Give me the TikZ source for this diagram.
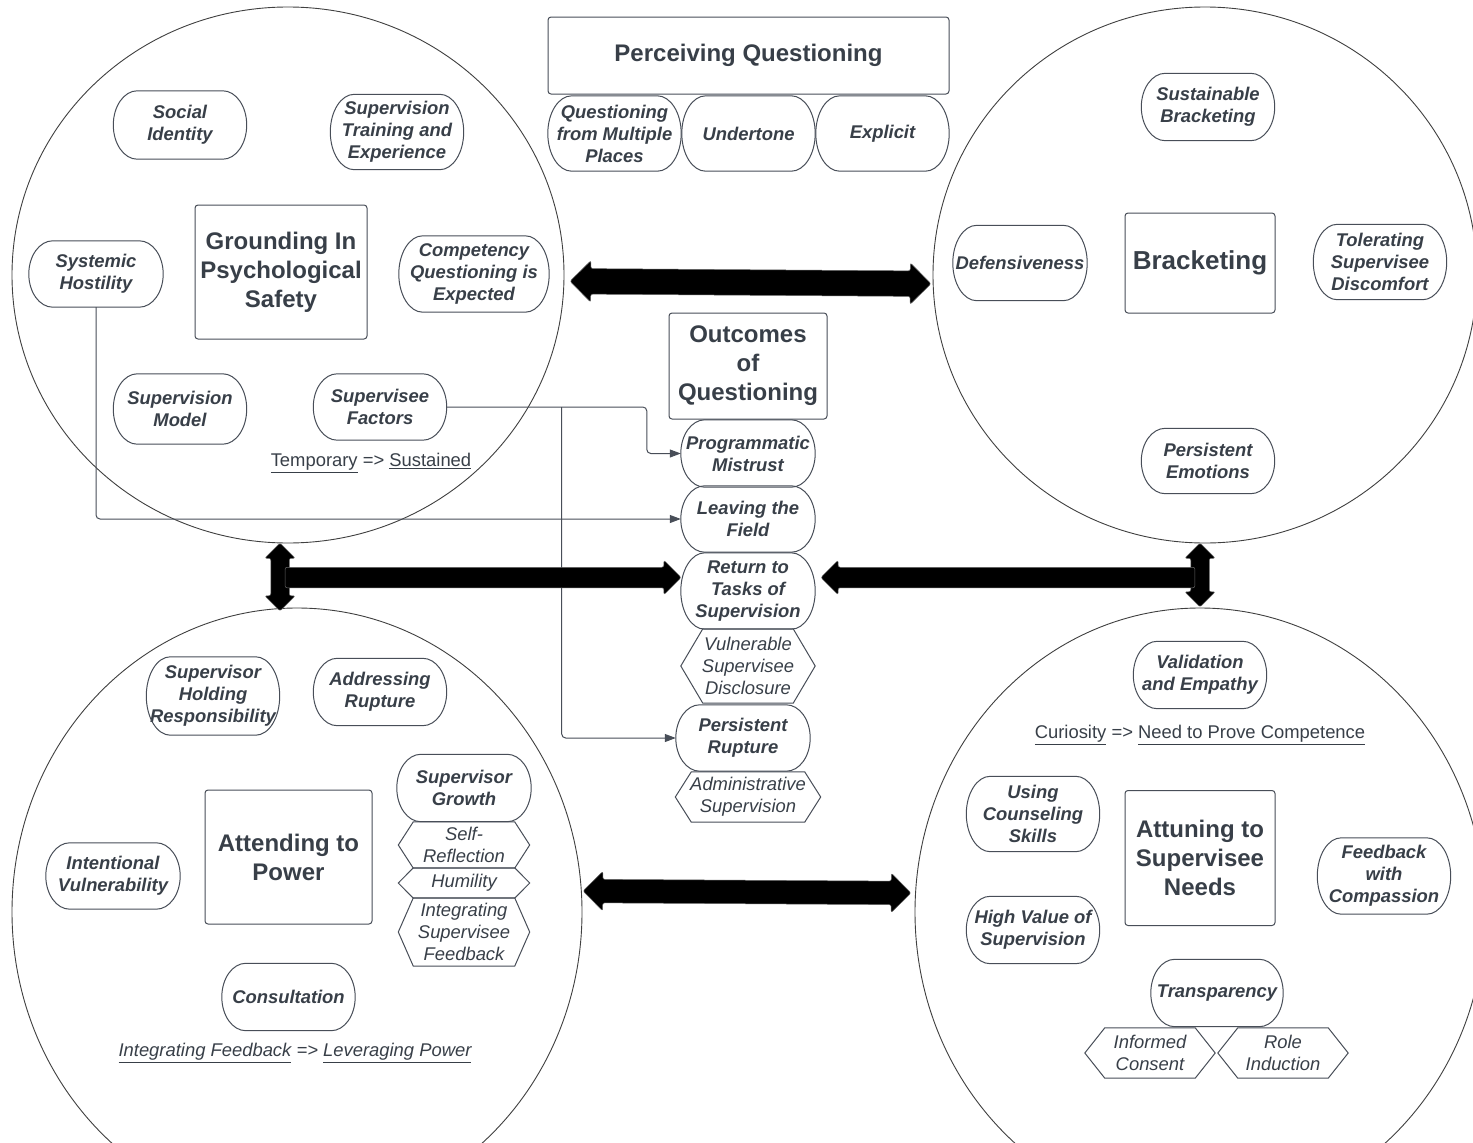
\documentclass[tikz,border=0pt]{standalone}
\usepackage{fontspec}
\setmainfont{Liberation Sans}
\usetikzlibrary{arrows.meta,calc,shapes.arrows}

\definecolor{ink}{RGB}{56,63,72}
\definecolor{edge}{RGB}{72,78,88}

% outline of a pill-shaped label: flat top and bottom, elliptic ends
\newcommand{\pillline}[1]{%
  \draw[edgeline] let \p1=(#1.north), \p2=(#1.south), \n1={abs(\y1-\y2)/2} in
    ([xshift=24pt]#1.north west) -- ([xshift=-24pt]#1.north east)
    arc[start angle=90,end angle=-90,x radius=24pt,y radius={\n1*1pt}]
    -- ([xshift=24pt]#1.south west)
    arc[start angle=270,end angle=90,x radius=24pt,y radius={\n1*1pt}] -- cycle;}

% outline of a hexagonal sub-label with a given side inset
\newcommand{\hexline}[2]{%
  \draw[edgeline] (#1.west) -- ([xshift=#2]#1.north west) -- ([xshift=-#2]#1.north east)
    -- (#1.east) -- ([xshift=-#2]#1.south east) -- ([xshift=#2]#1.south west) -- cycle;}

\begin{document}
\begin{tikzpicture}[x=1pt,y=-1pt,
  every node/.style={text=ink, inner sep=0pt, align=center},
  edgeline/.style={draw=edge, line width=1pt},
  ring/.style={draw=black!75, line width=0.9pt},
  lbl/.style={font=\fontsize{18.4}{22}\selectfont\bfseries\itshape},
  pill/.style={lbl, minimum width=133pt, minimum height=#1},
  pill/.default=68pt,
  hexa/.style={font=\fontsize{18.4}{22}\selectfont\itshape, minimum height=#1},
  hexa/.default=50pt,
  headbox/.style={font=\fontsize{24}{29}\selectfont\bfseries, draw=edge, line width=1pt, rounded corners=3pt},
  plain/.style={font=\fontsize{18.4}{22}\selectfont},
  conn/.style={draw=edge, line width=1pt, rounded corners=4pt, -{Triangle[length=11pt,width=8pt]}},
  bigarrow/.style={draw=black!60, fill=black, line width=0.5pt, inner xsep=0pt, rounded corners=2pt}
]
\fill[white] (0,0) rectangle (1473,1143);
\clip (0,0) rectangle (1473,1143);

% four theme regions
\draw[ring] (288,275) ellipse [x radius=276pt, y radius=268pt];
\draw[ring] (1205,275) ellipse [x radius=272pt, y radius=268pt];
\draw[ring] (297,912) ellipse [x radius=285pt, y radius=304pt];
\draw[ring] (1200,912) ellipse [x radius=285pt, y radius=304pt];

% perceiving questioning
\node[headbox, minimum width=401pt, minimum height=77pt] (pq) at (748.5,55.5) {Perceiving Questioning};
\node[pill=75pt] (qm) at (614.5,133.5) {Questioning\\from Multiple\\Places};
\node[pill=75pt] (ut) at (748.5,133.5) {Undertone};
\node[pill=75pt] (ex) at (882.5,133.5) {Explicit};

% grounding in psychological safety
\node[pill=68pt] (si) at (180,125) {Social\\Identity};
\node[pill=75pt] (st) at (397,132) {Supervision\\Training and\\Experience};
\node[headbox, minimum width=172pt, minimum height=134pt] (gp) at (281,272) {Grounding In\\Psychological\\Safety};
\node[pill=66pt, minimum width=134pt] (sh) at (96,274) {Systemic\\Hostility};
\node[pill=76pt, minimum width=150pt] (cq) at (474,274) {Competency\\Questioning is\\Expected};
\node[pill=70pt] (sm) at (180,409) {Supervision\\Model};
\node[pill=66pt] (sf) at (380,407) {Supervisee\\Factors};
\node[plain] (tl1) at (371,463) {\underline{Temporary} => \underline{Sustained}};

% bracketing
\node[pill=67pt] (sb) at (1208,107) {Sustainable\\Bracketing};
\node[pill=75pt, minimum width=134pt] (df) at (1020,263) {Defensiveness};
\node[headbox, font=\fontsize{26}{31}\selectfont\bfseries, minimum width=150pt, minimum height=100pt] (br) at (1200,263) {Bracketing};
\node[pill=75pt] (ts) at (1380,262) {Tolerating\\Supervisee\\Discomfort};
\node[pill=65pt] (pe) at (1208,461) {Persistent\\Emotions};

% outcomes of questioning
\node[headbox, minimum width=158pt, minimum height=106pt] (oq) at (748,366) {Outcomes\\of\\Questioning};
\node[pill=67pt, minimum width=134pt] (pm) at (748,453.5) {Programmatic\\Mistrust};
\node[pill=66pt, minimum width=134pt] (lf) at (748,519) {Leaving the\\Field};
\node[pill=76pt, minimum width=134pt] (rt) at (748,591) {Return to\\Tasks of\\Supervision};
\node[hexa=74pt, minimum width=134pt] (vd) at (748,666) {Vulnerable\\Supervisee\\Disclosure};
\node[pill=66pt, minimum width=134pt] (pr) at (743,738) {Persistent\\Rupture};
\node[hexa=50pt, minimum width=145pt] (as) at (748,797) {Administrative\\Supervision};

% attending to power
\node[pill=78pt] (sr) at (213,696) {Supervisor\\Holding\\Responsibility};
\node[pill=67pt] (ar) at (380,692) {Addressing\\Rupture};
\node[pill=67pt, minimum width=134pt] (sg) at (464,788) {Supervisor\\Growth};
\node[hexa=46pt, minimum width=131pt] (sx) at (464,845) {Self-\\Reflection};
\node[hexa=30pt, minimum width=131pt] (hu) at (464,883) {Humility};
\node[hexa=68pt, minimum width=131pt] (is) at (464,932) {Integrating\\Supervisee\\Feedback};
\node[headbox, minimum width=167pt, minimum height=134pt] (ap) at (288.5,857) {Attending to\\Power};
\node[pill=66pt, minimum width=134pt] (iv) at (113,876) {Intentional\\Vulnerability};
\node[pill=67pt] (co) at (288.5,997) {Consultation};
\node[plain, font=\fontsize{18.4}{22}\selectfont\itshape] (tl2) at (295,1053) {\underline{Integrating Feedback} => \underline{Leveraging Power}};

% attuning to supervisee needs
\node[pill=67pt] (ve) at (1200,675) {Validation\\and Empathy};
\node[plain] (tl3) at (1200,735) {\underline{Curiosity} => \underline{Need to Prove Competence}};
\node[pill=75pt] (uc) at (1033,814) {Using\\Counseling\\Skills};
\node[pill=67pt] (hv) at (1033,930) {High Value of\\Supervision};
\node[headbox, minimum width=150pt, minimum height=135pt] (at) at (1200,858) {Attuning to\\Supervisee\\Needs};
\node[pill=76pt] (fc) at (1384,876) {Feedback\\with\\Compassion};
\node[pill=67pt, minimum width=132pt] (tr) at (1217,993) {Transparency};
\node[hexa=50pt, minimum width=130pt] (ic) at (1150,1053) {Informed\\Consent};
\node[hexa=50pt, minimum width=130pt] (ri) at (1283,1053) {Role\\Induction};

% outlines of pill and hexagon labels
\foreach \nm in {qm,ut,ex,si,st,sh,cq,sm,sf,sb,df,ts,pe,pm,lf,rt,pr,sr,ar,sg,iv,co,ve,uc,hv,fc,tr}
  {\pillline{\nm}}
\hexline{vd}{22pt}
\hexline{as}{16pt}
\hexline{sx}{15pt}
\hexline{hu}{15pt}
\hexline{is}{15pt}
\hexline{ic}{20pt}
\hexline{ri}{20pt}

% links into the outcomes column
\draw[conn] (sh.south) |- (lf.west);
\draw[conn] (sf.east) -| ($(pm.west)+(-34,0)$) -- (pm.west);
\coordinate (fork) at ($(sf.east)+(115,0)$);
\draw[conn] (fork) |- (pr.west);

% broad arrows between the regions
\node[bigarrow, double arrow, inner ysep=12.5pt, double arrow head extend=8pt, minimum height=361pt, rotate=-0.4] (a1) at (750.5,282.5) {};
\node[bigarrow, double arrow, inner ysep=9pt, double arrow head extend=6pt, minimum height=68pt, rotate=90] (a2) at (280,577) {};
\node[bigarrow, double arrow, inner ysep=9pt, double arrow head extend=6pt, minimum height=64pt, rotate=90] (a3) at (1200,575) {};
\node[bigarrow, single arrow, inner ysep=10pt, single arrow head extend=7pt, minimum height=396pt] (a4) at (478,577.5) {};
\node[bigarrow, single arrow, inner ysep=10pt, single arrow head extend=7pt, minimum height=374pt, rotate=180] (a5) at (1013,577.5) {};
\node[bigarrow, double arrow, inner ysep=11.5pt, double arrow head extend=8pt, minimum height=328pt, rotate=-0.35] (a6) at (747,892) {};
\end{tikzpicture}
\end{document}
